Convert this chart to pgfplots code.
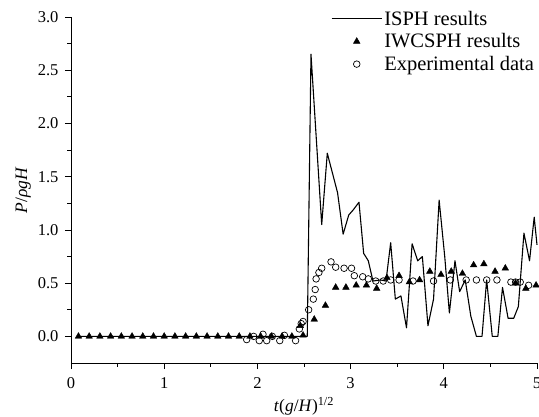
\documentclass[border=0pt]{standalone}
\usepackage{fontspec}
\setmainfont{Liberation Serif}
\usepackage{pgfplots}
\pgfplotsset{compat=1.18}
\begin{document}
\begin{tikzpicture}
\begin{axis}[
  at={(0pt,0pt)}, anchor=south west,
  scale only axis, width=466pt, height=346pt,
  xmin=0, xmax=5, ymin=-0.25, ymax=3.0,
  axis x line*=bottom, axis y line*=left,
  axis line style={-, line width=0.8pt},
  tick align=outside,
  xtick={0,1,2,3,4,5}, ytick={0,0.5,1,1.5,2,2.5,3},
  minor x tick num=1, minor y tick num=1,
  major tick length=6pt, minor tick length=3.5pt,
  tick style={line width=0.8pt, black},
  /pgf/number format/assume math mode=true,
  yticklabel style={/pgf/number format/.cd, fixed, fixed zerofill, precision=1, /tikz/.cd, xshift=-3pt},
  xticklabel style={yshift=-5pt},
  ticklabel style={font=\fontsize{16.5}{18}\selectfont},
  xlabel={\textit{t}(\textit{g}/\textit{H})\textsuperscript{1/2}},
  ylabel={\textit{P}/\textit{ρgH}},
  label style={font=\fontsize{17.5}{19}\selectfont},
  xlabel style={yshift=-1.5pt},
  ylabel style={yshift=0pt},
  legend style={at={(0.5515,1.03)}, anchor=north west, draw=none, fill=none,
    font=\fontsize{20.5}{22}\selectfont, row sep=3pt},
  legend cell align=left,
  legend image code/.code={\draw[mark repeat=2,mark phase=2,#1] plot coordinates {(0pt,0pt) (25pt,0pt) (50pt,0pt)};},
  clip=false,
]
\addplot[black, line width=1.1pt, line join=round] coordinates {
(0.08,0) (1.0,0) (2.0,0) (2.49,0) (2.535,0) (2.575,2.65) (2.69,1.05) (2.75,1.72)
(2.86,1.35) (2.92,0.96) (2.98,1.14) (3.03,1.19) (3.09,1.26) (3.14,0.78)
(3.19,0.71) (3.24,0.52) (3.32,0.53) (3.38,0.52) (3.43,0.88) (3.48,0.35)
(3.54,0.38) (3.60,0.08) (3.66,0.87) (3.72,0.71) (3.77,0.75) (3.83,0.10)
(3.89,0.35) (3.95,1.28) (4.01,0.75) (4.06,0.22) (4.12,0.71) (4.17,0.42)
(4.23,0.53) (4.29,0.19) (4.35,0) (4.41,0) (4.46,0.53) (4.52,0) (4.58,0)
(4.63,0.46) (4.69,0.17) (4.75,0.17) (4.80,0.28) (4.86,0.97) (4.92,0.71)
(4.97,1.12) (5.0,0.86)
};
\addlegendentry{ISPH results}
\addplot[only marks, mark=triangle*, mark size=3.8pt, black] coordinates {
(0.08,0) (0.195,0) (0.31,0) (0.425,0) (0.54,0) (0.655,0) (0.77,0) (0.885,0)
(1.0,0) (1.115,0) (1.23,0) (1.345,0) (1.46,0) (1.575,0) (1.69,0) (1.805,0)
(1.92,0) (2.035,0) (2.15,0) (2.265,0) (2.37,0) (2.46,0.10) (2.49,0.01)
(2.61,0.16) (2.73,0.29) (2.84,0.46) (2.95,0.46) (3.06,0.48) (3.17,0.48)
(3.28,0.45) (3.39,0.55) (3.52,0.57) (3.63,0.51) (3.74,0.53) (3.85,0.61)
(3.97,0.58) (4.08,0.61) (4.20,0.59) (4.32,0.67) (4.43,0.68) (4.55,0.61)
(4.66,0.64) (4.77,0.50) (4.88,0.45) (4.99,0.48)
};
\addlegendentry{IWCSPH results}
\addplot[only marks, mark=o, mark size=3.3pt, black, mark options={line width=0.7pt}] coordinates {
(1.885,-0.03) (1.96,0.0) (2.02,-0.04) (2.06,0.02) (2.10,-0.04) (2.16,0.0)
(2.24,-0.04) (2.29,0.01) (2.41,-0.04) (2.45,0.07) (2.47,0.12) (2.49,0.14)
(2.55,0.25) (2.60,0.35) (2.62,0.44) (2.63,0.54) (2.66,0.60) (2.69,0.64)
(2.79,0.70) (2.84,0.65) (2.93,0.64) (3.01,0.64) (3.04,0.57) (3.13,0.56)
(3.19,0.54) (3.27,0.52) (3.35,0.52) (3.43,0.53) (3.52,0.53) (3.67,0.52)
(3.89,0.52) (4.07,0.53) (4.24,0.53) (4.35,0.53) (4.46,0.53) (4.57,0.53)
(4.72,0.51) (4.77,0.51) (4.82,0.51) (4.91,0.48)
};
\addlegendentry{Experimental data}
\end{axis}
\pgfresetboundingbox
\path[use as bounding box] (-71pt,-53pt) rectangle (468pt,363pt);
\end{tikzpicture}
\end{document}
